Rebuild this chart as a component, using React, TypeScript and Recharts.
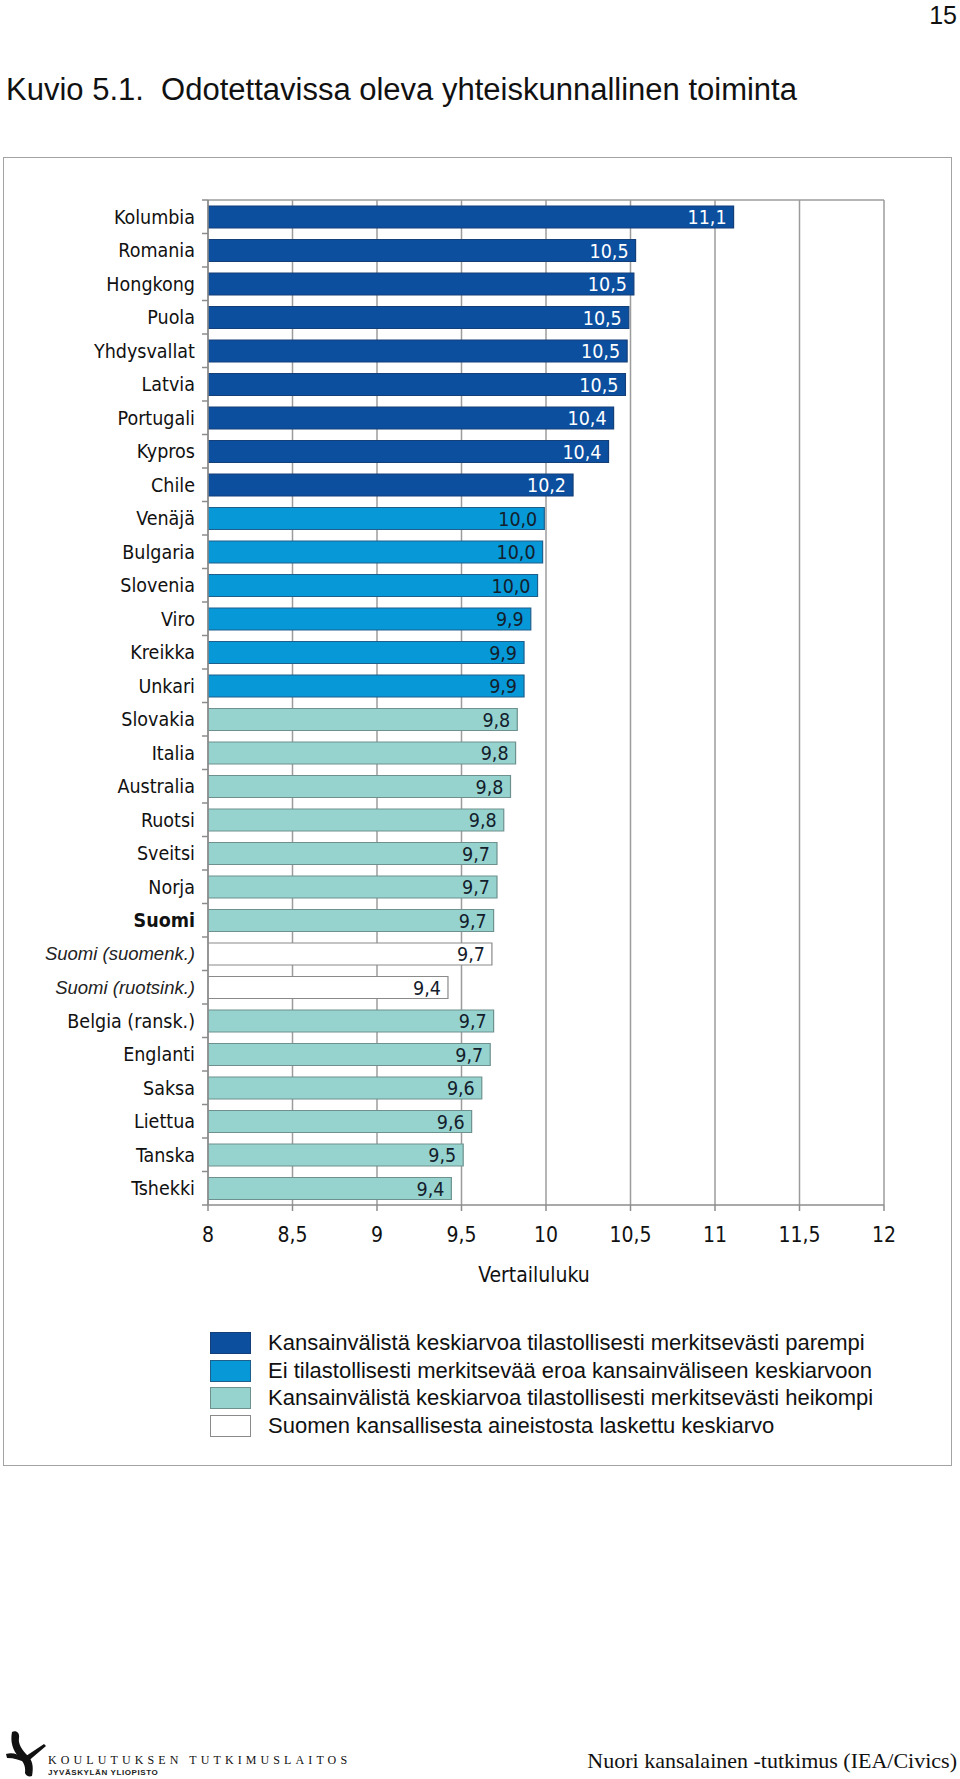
import React from 'react';
import { BarChart, Bar, XAxis, YAxis, CartesianGrid, Cell, LabelList } from 'recharts';

const countries = [
  'Kolumbia', 'Romania', 'Hongkong', 'Puola', 'Yhdysvallat', 'Latvia', 'Portugali', 'Kypros', 'Chile',
  'Venäjä', 'Bulgaria', 'Slovenia', 'Viro', 'Kreikka', 'Unkari',
  'Slovakia', 'Italia', 'Australia', 'Ruotsi', 'Sveitsi', 'Norja', 'Suomi',
  'Suomi (suomenk.)', 'Suomi (ruotsink.)',
  'Belgia (ransk.)', 'Englanti', 'Saksa', 'Liettua', 'Tanska', 'Tshekki',
];
const scores = [
  11.11, 10.53, 10.52, 10.49, 10.48, 10.47, 10.4, 10.37, 10.16,
  9.99, 9.98, 9.95, 9.91, 9.87, 9.87,
  9.83, 9.82, 9.79, 9.75, 9.71, 9.71, 9.69,
  9.68, 9.42,
  9.69, 9.67, 9.62, 9.56, 9.51, 9.44,
];
const printed = [
  '11,1', '10,5', '10,5', '10,5', '10,5', '10,5', '10,4', '10,4', '10,2',
  '10,0', '10,0', '10,0', '9,9', '9,9', '9,9',
  '9,8', '9,8', '9,8', '9,8', '9,7', '9,7', '9,7',
  '9,7', '9,4',
  '9,7', '9,7', '9,6', '9,6', '9,5', '9,4',
];
// 0 = better, 1 = no difference, 2 = weaker, 3 = national data
const groups = [
  0, 0, 0, 0, 0, 0, 0, 0, 0,
  1, 1, 1, 1, 1, 1,
  2, 2, 2, 2, 2, 2, 2,
  3, 3,
  2, 2, 2, 2, 2, 2,
];
const xTicks = [8, 8.5, 9, 9.5, 10, 10.5, 11, 11.5, 12];
const legendLabels = [
  'Kansainvälistä keskiarvoa tilastollisesti merkitsevästi parempi',
  'Ei tilastollisesti merkitsevää eroa kansainväliseen keskiarvoon',
  'Kansainvälistä keskiarvoa tilastollisesti merkitsevästi heikompi',
  'Suomen kansallisesta aineistosta laskettu keskiarvo',
];

const groupFill = ['#0c4f9f', '#0798d8', '#96d3ce', '#ffffff'];
const groupStroke = ['#153f78', '#1f5f8c', '#6d918e', '#8a8a8a'];
const groupText = ['#ffffff', '#13202c', '#13202c', '#13202c'];

const LABEL_FONT = "'DejaVu Sans Condensed', 'DejaVu Sans', sans-serif";
const SANS = "'Liberation Sans', Arial, sans-serif";
const SERIF = "'Liberation Serif', 'Times New Roman', serif";

const W = 960;
const CH = 1300;
const PLOT_LEFT = 208;
const PLOT_RIGHT = 884;
const PLOT_TOP = 200;
const PLOT_BOTTOM = 1205;
const Y_AXIS_W = 200;
const X_AXIS_H = 60;
const AXIS_COLOR = '#8c8c8c';

const data = countries.map((name, i) => ({ name, value: scores[i], label: printed[i], group: groups[i] }));

const bandHalf = (PLOT_BOTTOM - PLOT_TOP) / countries.length / 2;

const CategoryTick = (props: any) => {
  const { y, payload, index } = props;
  const name: string = payload.value;
  const i = countries.indexOf(name);
  const isBold = name === 'Suomi';
  const isItalic = i === 22 || i === 23;
  return (
    <g>
      <line x1={PLOT_LEFT - 6} x2={PLOT_LEFT} y1={y - bandHalf} y2={y - bandHalf} stroke={AXIS_COLOR} strokeWidth={1.5} />
      {index === countries.length - 1 ? (
        <line x1={PLOT_LEFT - 6} x2={PLOT_LEFT} y1={y + bandHalf} y2={y + bandHalf} stroke={AXIS_COLOR} strokeWidth={1.5} />
      ) : null}
      <text
        x={PLOT_LEFT - 13}
        y={y}
        dy="0.36em"
        textAnchor="end"
        fill={isItalic ? '#222' : '#111'}
        fontFamily={isItalic ? SANS : LABEL_FONT}
        fontStyle={isItalic ? 'italic' : 'normal'}
        fontWeight={isBold ? 'bold' : 'normal'}
        fontSize={isItalic ? 18.5 : 19.5}
      >
        {name}
      </text>
    </g>
  );
};

const renderValueLabel = (props: any) => {
  const { x, y, width, height, value, index } = props;
  const g = groups[index];
  return (
    <text
      x={Number(x) + Number(width) - 7}
      y={Number(y) + Number(height) / 2}
      dy="0.36em"
      textAnchor="end"
      fontSize={19.5}
      fontFamily={LABEL_FONT}
      fill={groupText[g]}
    >
      {value}
    </text>
  );
};

const LogoMark = () => (
  <svg width={44} height={48} viewBox="0 0 44 48" style={{ position: 'absolute', left: 4, top: 1730 }}>
    <path d="M8 2 C12 0 16 3 15 8 C14 14 18 20 24 26 C28 30 30 36 28 46 C25 47 22 46 21 43 C22 36 19 31 14 26 C9 20 6 12 8 2 Z" fill="#111" />
    <path d="M2 24 C8 22 14 24 19 28 L40 14 L42 16 L22 33 C17 30 10 28 3 28 Z" fill="#111" />
  </svg>
);

export default function App() {
  return (
    <div style={{ position: 'absolute', left: 0, top: 0, width: W, height: 1779, background: '#fff', overflow: 'hidden' }}>
      <div style={{ position: 'absolute', right: 3, top: 1, fontFamily: SANS, fontSize: 25, color: '#111' }}>15</div>
      <div
        style={{
          position: 'absolute', left: 6, top: 72, fontFamily: SANS, fontSize: 31, color: '#111',
          whiteSpace: 'pre', lineHeight: '36px',
        }}
      >
        {'Kuvio 5.1.  Odotettavissa oleva yhteiskunnallinen toiminta'}
      </div>

      <div
        style={{
          position: 'absolute', left: 3, top: 157, width: 949, height: 1309,
          border: '1.5px solid #a3a3a3', boxSizing: 'border-box',
        }}
      />

      <div style={{ position: 'absolute', left: 0, top: 0 }}>
        <BarChart
          width={W}
          height={CH}
          data={data}
          layout="vertical"
          margin={{
            top: PLOT_TOP,
            right: W - PLOT_RIGHT,
            bottom: CH - PLOT_BOTTOM - X_AXIS_H,
            left: PLOT_LEFT - Y_AXIS_W,
          }}
        >
          <CartesianGrid
            vertical={true}
            horizontal={true}
            horizontalPoints={[PLOT_TOP]}
            stroke="#9c9c9c"
            strokeWidth={1.5}
          />
          <XAxis
            type="number"
            domain={[8, 12]}
            ticks={xTicks}
            interval={0}
            allowDataOverflow={true}
            tickFormatter={(v: number) => String(v).replace('.', ',')}
            tick={{ fontSize: 21, fill: '#111', fontFamily: LABEL_FONT }}
            tickSize={6}
            tickMargin={16}
            axisLine={{ stroke: AXIS_COLOR, strokeWidth: 1.5 }}
            tickLine={{ stroke: AXIS_COLOR, strokeWidth: 1.5 }}
            height={X_AXIS_H}
            label={{
              value: 'Vertailuluku',
              position: 'bottom',
              offset: 2,
              dx: -12,
              style: { fontSize: 21, fill: '#111', fontFamily: LABEL_FONT },
            }}
          />
          <YAxis
            type="category"
            dataKey="name"
            width={Y_AXIS_W}
            interval={0}
            tickLine={false}
            axisLine={{ stroke: AXIS_COLOR, strokeWidth: 1.5 }}
            tick={CategoryTick}
          />
          <Bar dataKey="value" barSize={22} isAnimationActive={false}>
            {data.map((d, i) => (
              <Cell key={i} fill={groupFill[d.group]} stroke={groupStroke[d.group]} strokeWidth={1.2} />
            ))}
            <LabelList dataKey="label" content={renderValueLabel} />
          </Bar>
        </BarChart>
      </div>

      {legendLabels.map((txt, i) => (
        <div key={i} style={{ position: 'absolute', left: 210, top: 1332 + i * 27.6, height: 22, display: 'flex', alignItems: 'center' }}>
          <div
            style={{
              width: 41, height: 22, boxSizing: 'border-box', background: groupFill[i],
              border: `1.5px solid ${groupStroke[i]}`,
            }}
          />
          <div style={{ marginLeft: 17, fontFamily: SANS, fontSize: 22, color: '#111', whiteSpace: 'nowrap', lineHeight: '22px' }}>
            {txt}
          </div>
        </div>
      ))}

      <LogoMark />
      <div
        style={{
          position: 'absolute', left: 48, top: 1753, fontFamily: SERIF, fontSize: 12, letterSpacing: 4.1,
          color: '#111', whiteSpace: 'nowrap', lineHeight: '14px',
        }}
      >
        KOULUTUKSEN TUTKIMUSLAITOS
      </div>
      <div
        style={{
          position: 'absolute', left: 48, top: 1768, fontFamily: SANS, fontSize: 8, letterSpacing: 0.6,
          color: '#222', whiteSpace: 'nowrap', lineHeight: '10px', fontWeight: 'bold',
        }}
      >
        JYVÄSKYLÄN YLIOPISTO
      </div>
      <div
        style={{
          position: 'absolute', right: 3, top: 1748, fontFamily: SERIF, fontSize: 22, color: '#111',
          whiteSpace: 'nowrap', lineHeight: '25px',
        }}
      >
        Nuori kansalainen -tutkimus (IEA/Civics)
      </div>
    </div>
  );
}
